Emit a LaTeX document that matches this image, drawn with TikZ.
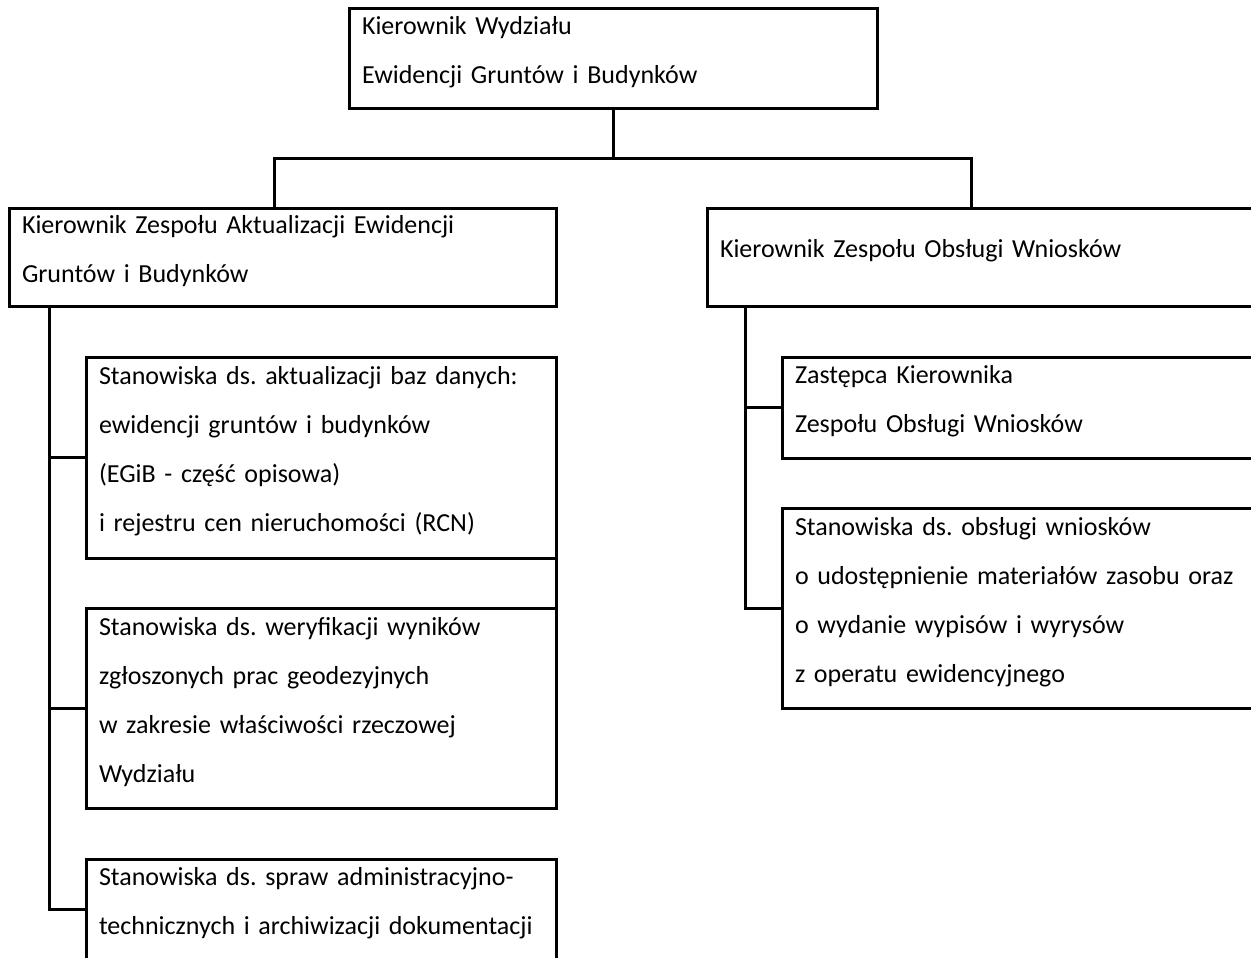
\documentclass[tikz,border=0pt]{standalone}
\usepackage{fontspec}
\setmainfont{Carlito}
\usepackage{tikz}
\frenchspacing
\tikzset{
  pole/.style={draw,line width=3pt,rectangle,anchor=north west,align=left,
    outer sep=0pt,inner xsep=13pt,inner ysep=0pt,text height=6pt,
    font=\fontsize{26}{49}\selectfont},
  linia/.style={line width=3pt}
}
\begin{document}
\begin{tikzpicture}[x=1pt,y=-1pt]
    \useasboundingbox (0,0) rectangle (1251,958);
    \clip (0,0) rectangle (1251,958);
    % kierownik wydzialu
    \node[pole,minimum width=528pt,minimum height=99pt,text width=502pt](kierownik)at(349,9){Kierownik Wydziału\\Ewidencji Gruntów i Budynków};
    % zespoly
    \node[pole,minimum width=547pt,minimum height=98pt,text width=521pt](aktual)at(9,208){Kierownik Zespołu Aktualizacji Ewidencji\\Gruntów i Budynków};
    \node[pole,minimum width=620pt,minimum height=98pt,text width=594pt](obsluga)at(707,208){Kierownik Zespołu Obsługi Wniosków};
    % stanowiska - lewa strona
    \node[pole,minimum width=470pt,minimum height=201pt,text width=444pt](bazy)at(86,357){Stanowiska ds. aktualizacji baz danych:\\ewidencji gruntów i budynków\\(EGiB - część opisowa)\\i rejestru cen nieruchomości (RCN)};
    \node[pole,minimum width=470pt,minimum height=200pt,text width=444pt](weryf)at(86,608){Stanowiska ds. weryfikacji wyników\\zgłoszonych prac geodezyjnych\\w zakresie właściwości rzeczowej\\Wydziału};
    \node[pole,minimum width=470pt,minimum height=100pt,text width=444pt](admin)at(86,859){Stanowiska ds. spraw administracyjno-\\technicznych i archiwizacji dokumentacji};
    % stanowiska - prawa strona
    \node[pole,minimum width=560pt,minimum height=101pt,text width=534pt](zastepca)at(782,357){Zastępca Kierownika\\Zespołu Obsługi Wniosków};
    \node[pole,minimum width=560pt,minimum height=200pt,text width=534pt](wnioski)at(782,508){Stanowiska ds. obsługi wniosków\\o udostępnienie materiałów zasobu oraz\\o wydanie wypisów i wyrysów\\z operatu ewidencyjnego};
    % polaczenia
    \coordinate(wejscieL)at(274,208);
    \coordinate(wejscieP)at(971,208);
    \draw[linia](kierownik.south)--++(0,50);
    \draw[linia](wejscieL)--++(0,-50)-|(wejscieP);
    \draw[linia]([xshift=40pt]aktual.south west)coordinate(pionL)|-(admin.west);
    \draw[linia](pionL|-bazy.west)--(bazy.west);
    \draw[linia](pionL|-weryf.west)--(weryf.west);
    \draw[linia](bazy.south east)--(weryf.north east);
    \draw[linia]([xshift=38pt]obsluga.south west)coordinate(pionP)|-(wnioski.west);
    \draw[linia](pionP|-zastepca.west)--(zastepca.west);
\end{tikzpicture}
\end{document}
